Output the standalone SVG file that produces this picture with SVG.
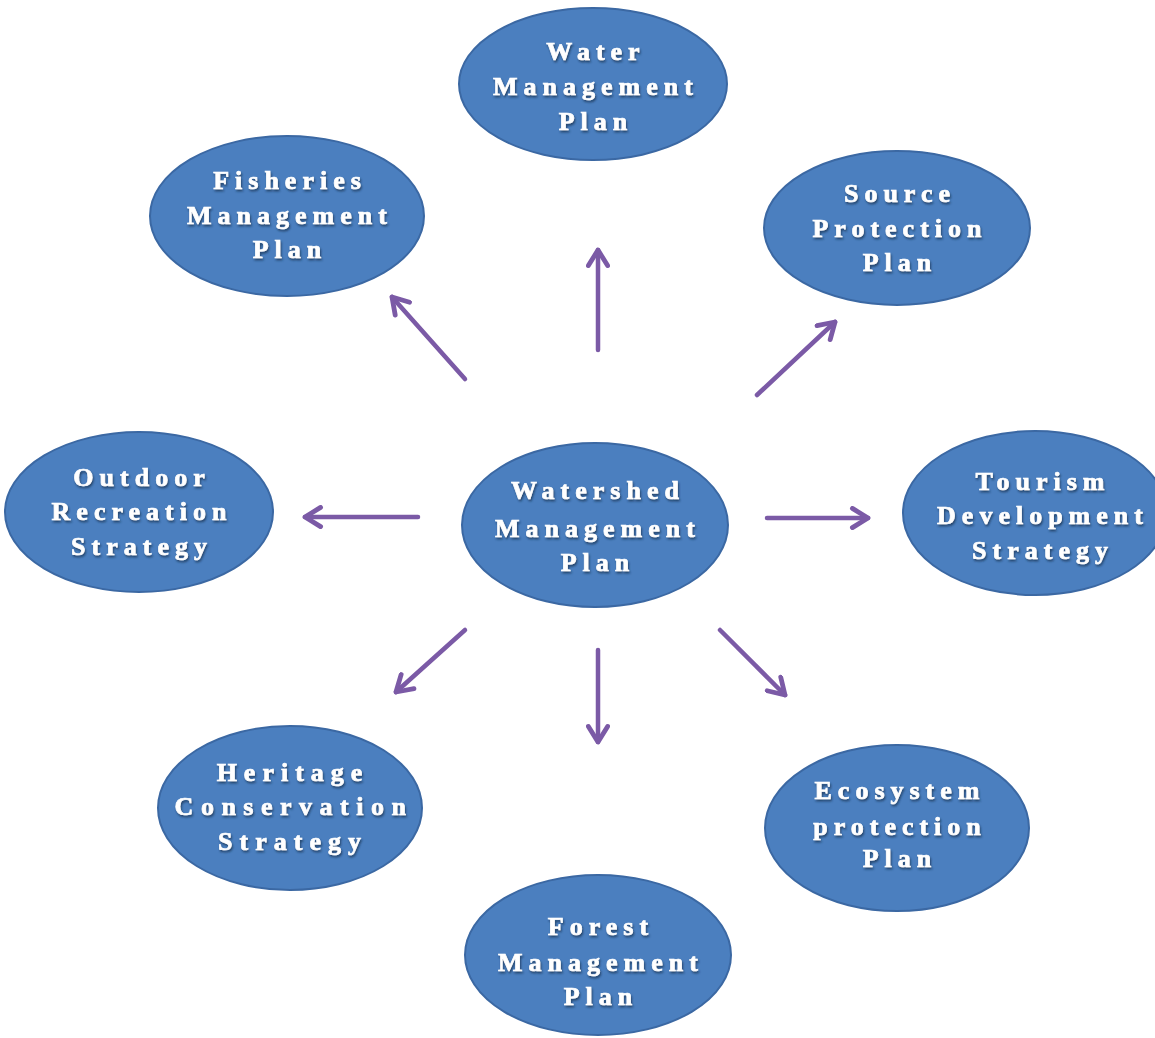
<svg xmlns="http://www.w3.org/2000/svg" width="1155" height="1038" viewBox="0 0 1155 1038">
<defs>
<style>
.node ellipse{fill:#4b7fbf;stroke:#3b68a3;stroke-width:2}
.node text{font-family:"Liberation Serif","Times New Roman",serif;font-weight:bold;font-size:26px;letter-spacing:6px;fill:#ffffff;stroke:#ffffff;stroke-width:0.7;text-anchor:middle;filter:url(#sh)}
.conn line{stroke:#7b5aa6;stroke-width:4.5;stroke-linecap:round;marker-end:url(#ah)}
</style>
<filter id="sh" x="-10%" y="-30%" width="120%" height="160%">
<feDropShadow dx="1" dy="2" stdDeviation="1" flood-color="#1f3552" flood-opacity="0.8"/>
</filter>
<marker id="ah" viewBox="0 0 20 20" refX="17" refY="10" markerWidth="24" markerHeight="24" markerUnits="userSpaceOnUse" orient="auto">
<path d="M4,2 L17,10 L4,18" fill="none" stroke="#7b5aa6" stroke-width="4" stroke-linecap="round" stroke-linejoin="round"/>
</marker>
</defs>
<rect width="1155" height="1038" fill="#ffffff"/>
<g class="conn" id="connectors">
<line x1="598" y1="350" x2="598" y2="250"/>
<line x1="465" y1="379" x2="392" y2="297"/>
<line x1="757" y1="395" x2="835" y2="322"/>
<line x1="418" y1="517" x2="305" y2="517"/>
<line x1="767" y1="518" x2="868" y2="518"/>
<line x1="465" y1="630" x2="396" y2="692"/>
<line x1="598" y1="650" x2="598" y2="742"/>
<line x1="720" y1="630" x2="785" y2="695"/>
</g>
<g class="node" id="water">
<ellipse cx="593" cy="84" rx="134" ry="76"/>
<text x="596" y="60">Water</text><text x="596" y="95">Management</text><text x="596" y="130">Plan</text>
</g>
<g class="node" id="fisheries">
<ellipse cx="287" cy="216" rx="137" ry="80"/>
<text x="290" y="189">Fisheries</text><text x="290" y="224">Management</text><text x="290" y="258">Plan</text>
</g>
<g class="node" id="source">
<ellipse cx="897" cy="228" rx="133" ry="77"/>
<text x="900" y="202">Source</text><text x="900" y="237">Protection</text><text x="900" y="271">Plan</text>
</g>
<g class="node" id="outdoor">
<ellipse cx="139" cy="512" rx="134" ry="80"/>
<text x="142" y="486">Outdoor</text><text x="142" y="520">Recreation</text><text x="142" y="555">Strategy</text>
</g>
<g class="node" id="watershed">
<ellipse cx="595" cy="525" rx="133" ry="82"/>
<text x="598" y="499">Watershed</text><text x="598" y="537">Management</text><text x="598" y="571">Plan</text>
</g>
<g class="node" id="tourism">
<ellipse cx="1035" cy="513" rx="132" ry="82"/>
<text x="1043" y="490">Tourism</text><text x="1043" y="524">Development</text><text x="1043" y="559">Strategy</text>
</g>
<g class="node" id="heritage">
<ellipse cx="290" cy="808" rx="132" ry="82"/>
<text x="293" y="781" style="letter-spacing:7px">Heritage</text><text x="294" y="815" style="letter-spacing:7.5px">Conservation</text><text x="293" y="850" style="letter-spacing:7px">Strategy</text>
</g>
<g class="node" id="ecosystem">
<ellipse cx="897" cy="828" rx="132" ry="83"/>
<text x="900" y="799">Ecosystem</text><text x="900" y="835">protection</text><text x="900" y="867">Plan</text>
</g>
<g class="node" id="forest">
<ellipse cx="598" cy="955" rx="133" ry="80"/>
<text x="601" y="935">Forest</text><text x="601" y="971">Management</text><text x="601" y="1005">Plan</text>
</g>
</svg>
